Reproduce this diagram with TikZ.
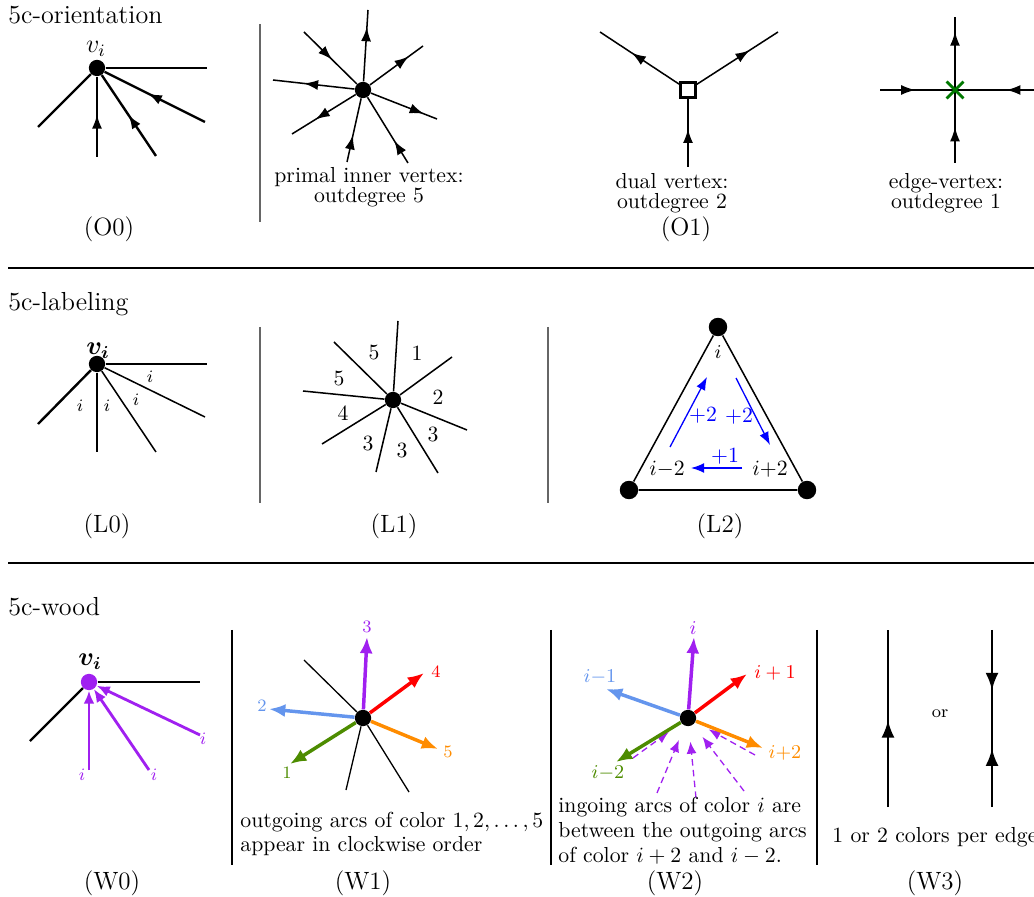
\documentclass[tikz,border=0pt]{standalone}
\usepackage{amsmath,amssymb,bm}
\usetikzlibrary{arrows.meta,decorations.markings,shapes.misc}
\definecolor{wpurple}{RGB}{160,32,240}
\definecolor{wred}{RGB}{255,0,0}
\definecolor{wblue}{RGB}{100,149,237}
\definecolor{wgreen}{RGB}{77,140,0}
\definecolor{worange}{RGB}{255,140,0}
\definecolor{xgreen}{RGB}{0,120,0}
\definecolor{lblue}{RGB}{0,0,255}

\begin{document}
\begin{tikzpicture}[
  x=0.46pt, y=-0.46pt,
  % one unit is one pixel of the 1034x897 layout, y grows downwards
  vtx/.style={circle, fill, inner sep=0pt, minimum size=7.5pt},
  ln/.style={line width=0.7pt},
  lnthick/.style={line width=1.1pt},
  midarr/.style={postaction={decorate}, decoration={markings,
    mark=at position #1 with {\arrow{Latex[length=6.5pt,width=4.6pt]}}}},
  midarr/.default=0.5,
  bigmid/.style={postaction={decorate}, decoration={markings,
    mark=at position #1 with {\arrow{Latex[length=8pt,width=6pt]}}}},
  warr/.style={line width=1.6pt, -{Latex[length=7.5pt,width=6pt]}},
  inarr/.style={line width=1.3pt, wpurple, -{Latex[length=6pt,width=5pt]}},
  dasharr/.style={line width=0.6pt, wpurple, dash pattern=on 3pt off 2pt,
    -{Latex[length=5.5pt,width=4.6pt]}, shorten >=7pt},
  larr/.style={line width=0.6pt, lblue, -{Latex[length=6pt,width=4.5pt]}},
  sep/.style={line width=0.6pt},
  rule/.style={line width=1pt},
  title/.style={font=\large, anchor=base west, inner sep=0pt},
  sublabel/.style={font=\fontsize{11.5}{14}\selectfont, anchor=base, inner sep=0pt},
  caption/.style={align=center, inner sep=0pt, anchor=north},
  crossmk/.style={cross out, draw=xgreen, line width=1.3pt, minimum size=6.5pt, inner sep=0pt}
]
\useasboundingbox (0,0) rectangle (1034,897);

% titles and separators
\node[title] (ttlo) at (8,24) {5c-orientation};
\node[title] (ttll) at (8,311) {5c-labeling};
\node[title] (ttlw) at (8,616) {5c-wood};
\foreach \n/\y in {a/268, b/563} {
  \coordinate (h\n l) at (8,\y); \coordinate (h\n r) at (1034,\y);
  \draw[rule] (h\n l) -- (h\n r);
}
\foreach \n/\x/\ya/\yb/\c in {a/260/24/222/black!60, b/260/327/503/black!60,
    c/548/327/503/black!60, d/232/630/865/black, e/551/630/865/black, f/817/630/865/black} {
  \coordinate (s\n t) at (\x,\ya); \coordinate (s\n b) at (\x,\yb);
  \draw[sep, \c] (s\n t) -- (s\n b);
}

% (O0)
\node[vtx] (o0) at (97,68) {};
\node[font=\large] (o0v) at (96,49) {$v_i$};
\coordinate (o0a) at (207,68);
\coordinate (o0b) at (38,127);
\draw[lnthick] (o0) -- (o0a);
\draw[lnthick] (o0) -- (o0b);
\foreach \n/\x/\y/\p in {c/97/157/0.53, d/156/156/0.51, e/205/122/0.57} {
  \coordinate (o0\n) at (\x,\y);
  \draw[lnthick, midarr=\p] (o0\n) -- (o0);
}
\node[sublabel] (o0cap) at (109,236) {(O0)};

% primal inner vertex
\node[vtx] (pv) at (363,90) {};
\foreach \n/\x/\y/\p in {a/368/10/0.76, c/423/46/0.73, d/273/80/0.62, e/437/119/0.8, f/292/134/0.63} {
  \coordinate (pv\n) at (\x,\y);
  \draw[ln, midarr=\p] (pv) -- (pv\n);
}
\foreach \n/\x/\y/\p in {b/304/32/0.53, g/347/162/0.42, h/408/163/0.34} {
  \coordinate (pv\n) at (\x,\y);
  \draw[ln, midarr=\p] (pv\n) -- (pv);
}
\node[caption] (pvtxt) at (369,167) {primal inner vertex:\\[-3pt]outdegree 5};

% dual vertex
\node[draw, rectangle, minimum size=7pt, inner sep=0pt, line width=1.2pt, fill=white] (dv) at (688,90) {};
\coordinate (dva) at (600,32);
\coordinate (dvb) at (778,32);
\coordinate (dvc) at (688,167);
\draw[ln, midarr=0.6] (dv) -- (dva);
\draw[ln, midarr=0.65] (dv) -- (dvb);
\draw[ln, midarr=0.56] (dvc) -- (dv);
\node[caption] (dvtxt) at (672,173) {dual vertex:\\[-3pt]outdegree 2};
\node[sublabel] (o1cap) at (686,236) {(O1)};

% edge-vertex
\coordinate (ev) at (955,90);
\coordinate (eva) at (955,17);
\draw[ln, midarr=0.8] (ev) -- (eva);
\foreach \n/\x/\y/\p in {b/955/163/0.49, c/880/90/0.47, d/1034/90/0.35} {
  \coordinate (ev\n) at (\x,\y);
  \draw[ln, midarr=\p] (ev\n) -- (ev);
}
\node[crossmk] (evx) at (ev) {};
\node[caption] (evtxt) at (946,173) {edge-vertex:\\[-3pt]outdegree 1};

% (L0)
\node[vtx] (l0) at (97,364) {};
\node[font=\large] (l0v) at (98,351) {$\bm{v_i}$};
\coordinate (l0a) at (207,364);
\coordinate (l0b) at (38,424);
\draw[lnthick] (l0) -- (l0a);
\draw[lnthick] (l0) -- (l0b);
\foreach \n/\x/\y in {c/97/452, d/156/452, e/205/417} {
  \coordinate (l0\n) at (\x,\y);
  \draw[ln] (l0) -- (l0\n);
}
\foreach \n/\x/\y in {a/80/406, b/107/406, c/136/400, d/150/377}
  \node[font=\footnotesize] (l0i\n) at (\x,\y) {$i$};
\node[sublabel] (l0cap) at (107,533) {(L0)};

% (L1)
\node[vtx] (l1) at (393,400) {};
\foreach \n/\x/\y in {a/398/321, b/452/357, c/467/430, d/438/473, e/376/472, f/322/444, g/303/391, h/334/342} {
  \coordinate (l1\n) at (\x,\y);
  \draw[ln] (l1) -- (l1\n);
}
\foreach \n/\x/\y/\t in {a/374/353/5, b/417/353/1, c/339/379/5, d/438/397/2,
    e/343/413/4, f/433/435/3, g/368/444/3, h/402/451/3}
  \node (l1n\n) at (\x,\y) {\t};
\node[sublabel] (l1cap) at (394,533) {(L1)};

% (L2)
\node[vtx, minimum size=8.5pt] (l2t) at (718,327) {};
\node[vtx, minimum size=8.5pt] (l2l) at (629,490) {};
\node[vtx, minimum size=8.5pt] (l2r) at (807,490) {};
\draw[ln] (l2t) -- (l2l) -- (l2r) -- (l2t);
\node[font=\small] (l2it) at (718,352) {$i$};
\node (l2il) at (667,469) {$i{-}2$};
\node (l2ir) at (770,469) {$i{+}2$};
\coordinate (ba1) at (670,447); \coordinate (ba2) at (707,377);
\coordinate (bb1) at (736,378); \coordinate (bb2) at (770,445);
\coordinate (bc1) at (742,468); \coordinate (bc2) at (691,468);
\draw[larr] (ba1) -- (ba2);
\draw[larr] (bb1) -- (bb2);
\draw[larr] (bc1) -- (bc2);
\node[lblue] (l2pa) at (703,415) {$+2$};
\node[lblue] (l2pb) at (739,416) {$+2$};
\node[lblue] (l2pc) at (725,456) {$+1$};
\node[sublabel] (l2cap) at (720,533) {(L2)};

% (W0)
\node[vtx, fill=wpurple] (w0) at (89,682) {};
\node[font=\large] (w0v) at (90,662) {$\bm{v_i}$};
\coordinate (w0a) at (200,682);
\coordinate (w0b) at (30,741);
\draw[lnthick] (w0) -- (w0a);
\draw[lnthick] (w0) -- (w0b);
\foreach \n/\x/\y/\lx/\ly in {c/89/770/82/775, d/149/770/154/775, e/200/735/203/739} {
  \coordinate (w0\n) at (\x,\y);
  \draw[inarr] (w0\n) -- (w0);
  \node[font=\footnotesize, wpurple] (w0i\n) at (\lx,\ly) {$i$};
}
\node[sublabel] (w0cap) at (112,889) {(W0)};

% (W1)
\node[vtx] (w1) at (363,718) {};
\foreach \n/\x/\y in {a/304/660, b/346/790, c/409/792} {
  \coordinate (w1\n) at (\x,\y);
  \draw[line width=0.6pt] (w1) -- (w1\n);
}
\foreach \n/\c/\x/\y/\lx/\ly in {3/wpurple/367/637/367/627, 4/wred/424/673/436/672,
    2/wblue/269/709/262/706, 1/wgreen/290/764/287/773, 5/worange/438/749/448/752} {
  \coordinate (w1k\n) at (\x,\y);
  \draw[warr, \c] (w1) -- (w1k\n);
  \node[font=\footnotesize, \c] (w1n\n) at (\lx,\ly) {\n};
}
\node[anchor=north west, align=left, inner sep=0pt] (w1txt) at (240,812)
  {outgoing arcs of color $1,2,\ldots,5$\\[-1pt]appear in clockwise order};
\node[sublabel] (w1cap) at (363,889) {(W1)};

% (W2)
\foreach \n/\x/\y in {a/633/758, b/657/793, c/696/798, d/744/791, e/755/755}
  \coordinate (w2d\n) at (\x,\y);
\node[vtx] (w2) at (688,718) {};
\foreach \n in {a,b,c,d,e}
  \draw[dasharr] (w2d\n) -- (w2);
\foreach \n/\c/\x/\y/\lx/\ly/\t in {a/wpurple/694/637/693/628/{i}, b/wred/747/674/775/673/{i+1},
    c/wblue/606/689/600/677/{i{-}1}, d/wgreen/616/762/608/773/{i{-}2}, e/worange/763/748/785/753/{i{+}2}} {
  \coordinate (w2k\n) at (\x,\y);
  \draw[warr, \c] (w2) -- (w2k\n);
  \node[font=\small, \c] (w2n\n) at (\lx,\ly) {$\t$};
}
\node[anchor=north west, align=left, inner sep=0pt] (w2txt) at (558,797)
  {ingoing arcs of color $i$ are\\[-0.5pt]between the outgoing arcs\\[-0.5pt]of color $i+2$ and $i-2$.};
\node[sublabel] (w2cap) at (675,889) {(W2)};

% (W3)
\coordinate (w3a) at (888,630); \coordinate (w3b) at (888,807);
\coordinate (w3c) at (992,630); \coordinate (w3d) at (992,807);
\draw[lnthick, bigmid=0.49] (w3b) -- (w3a);
\draw[lnthick, bigmid=0.34] (w3c) -- (w3d);
\draw[lnthick, bigmid=0.33] (w3d) -- (w3c);
\node[font=\footnotesize] (w3or) at (940,714) {or};
\node[anchor=base west, inner sep=0pt] (w3txt) at (832,842) {1 or 2 colors per edge};
\node[sublabel] (w3cap) at (935,889) {(W3)};
\end{tikzpicture}
\end{document}
